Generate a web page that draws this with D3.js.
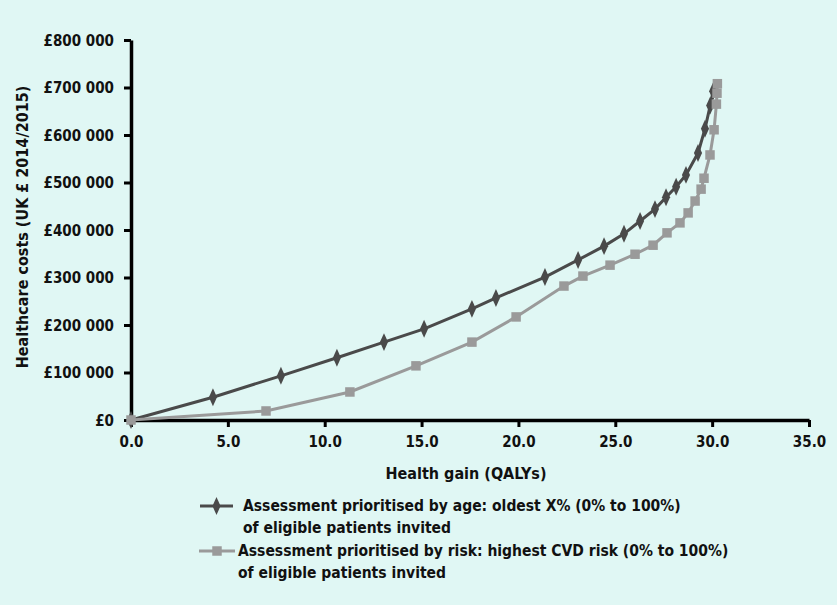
<!DOCTYPE html>
<html><head><meta charset="utf-8">
<script src="https://cdn.jsdelivr.net/npm/d3@7/dist/d3.min.js"></script>
<style>
html,body{margin:0;padding:0;background:#e0f7f4;}
svg{display:block;}
text{font-family:"DejaVu Sans Condensed","DejaVu Sans",sans-serif;font-weight:bold;fill:#111;}
</style></head>
<body>
<script>
// Data
const ageQALY = [0, 4.23, 7.74, 10.63, 13.06, 15.13, 17.6, 18.84, 21.37, 23.08, 24.42, 25.45, 26.28, 27.05, 27.62, 28.14, 28.65, 29.27, 29.63, 29.9, 30.05];
const ageCost = [0, 48000, 93000, 131000, 164000, 192000, 234000, 257000, 301000, 337000, 366000, 392000, 419000, 444000, 469000, 491000, 516000, 562000, 613000, 662000, 692000];
const riskQALY = [0, 6.97, 11.3, 14.71, 17.6, 19.88, 22.35, 23.33, 24.73, 26.02, 26.95, 27.67, 28.34, 28.76, 29.12, 29.43, 29.58, 29.89, 30.1, 30.22, 30.25, 30.27];
const riskCost = [0, 19000, 59000, 114000, 164000, 217000, 282000, 303000, 326000, 349000, 368000, 394000, 415000, 436000, 461000, 486000, 509000, 558000, 611000, 665000, 688000, 708000];
const xTicks = [0, 5, 10, 15, 20, 25, 30, 35];
const yTicks = [0, 100000, 200000, 300000, 400000, 500000, 600000, 700000, 800000];
const xTitle = "Health gain (QALYs)";
const yTitle = "Healthcare costs (UK £ 2014/2015)";
const legendLines = [
  ["Assessment prioritised by age: oldest X% (0% to 100%)", "of eligible patients invited"],
  ["Assessment prioritised by risk: highest CVD risk (0% to 100%)", "of eligible patients invited"]
];

const W = 837, H = 605;
const svg = d3.select("body").append("svg").attr("width", W).attr("height", H);
svg.append("rect").attr("width", W).attr("height", H).attr("fill", "#e0f7f4");

const x = d3.scaleLinear().domain([0, 35]).range([131, 809]);
const y = d3.scaleLinear().domain([0, 800000]).range([420, 40]);

const fmtY = v => v === 0 ? "£0" : "£" + d3.format(",")(v).replace(/,/g, " ");

// Axes
const xAxis = svg.append("g").attr("transform", "translate(0,420)")
  .call(d3.axisBottom(x).tickValues(xTicks).tickFormat(d3.format(".1f")).tickSize(7).tickSizeOuter(0).tickPadding(9));
const yAxis = svg.append("g").attr("transform", "translate(131,0)")
  .call(d3.axisLeft(y).tickValues(yTicks).tickFormat(fmtY).tickSize(7).tickSizeOuter(0).tickPadding(10));
[xAxis, yAxis].forEach(g => {
  g.select(".domain").attr("stroke", "#000").attr("stroke-width", 3.5);
  g.selectAll(".tick line").attr("stroke", "#000").attr("stroke-width", 3);
  g.selectAll(".tick text").attr("fill", "#111").style("font-size", "15px")
   .style("font-family", '"DejaVu Sans Condensed","DejaVu Sans",sans-serif').style("font-weight", "bold");
});
yAxis.selectAll(".tick text").attr("dy", "0.36em");

svg.append("text").attr("x", 466).attr("y", 479).attr("text-anchor", "middle").style("font-size", "16px").text(xTitle);
svg.append("text").attr("transform", "translate(28,227) rotate(-90)").attr("text-anchor", "middle").style("font-size", "16px").text(yTitle);

const ageColor = "#4a4a4a", riskColor = "#9a9a9a";
const ageData = ageQALY.map((q, i) => [q, ageCost[i]]);
const riskData = riskQALY.map((q, i) => [q, riskCost[i]]);
const line = d3.line().x(d => x(d[0])).y(d => y(d[1]));

const diamond = d3.symbol().type(d3.symbolDiamond).size(70);
const square = d3.symbol().type(d3.symbolSquare).size(90);

svg.append("path").datum(ageData).attr("d", line).attr("fill", "none").attr("stroke", ageColor).attr("stroke-width", 3);
svg.selectAll(".dia").data(ageData).enter().append("path")
  .attr("transform", d => `translate(${x(d[0])},${y(d[1])}) scale(0.9,1.15)`).attr("d", diamond).attr("fill", ageColor);

svg.append("path").datum(riskData).attr("d", line).attr("fill", "none").attr("stroke", riskColor).attr("stroke-width", 3);
svg.selectAll(".sq").data(riskData).enter().append("path")
  .attr("transform", d => `translate(${x(d[0])},${y(d[1])})`).attr("d", square).attr("fill", riskColor);

// Legend
const leg = svg.append("g");
const items = [
  {color: ageColor, sym: diamond, sx: 0.9, sy: 1.15, x1: 200, x2: 233, cy: 506, tx: 243, lines: legendLines[0]},
  {color: riskColor, sym: square, sx: 1, sy: 1, x1: 199, x2: 235, cy: 551, tx: 238, lines: legendLines[1]}
];
items.forEach(it => {
  leg.append("line").attr("x1", it.x1).attr("x2", it.x2).attr("y1", it.cy).attr("y2", it.cy)
    .attr("stroke", it.color).attr("stroke-width", 3);
  leg.append("path").attr("transform", `translate(${(it.x1 + it.x2) / 2},${it.cy}) scale(${it.sx},${it.sy})`)
    .attr("d", it.sym).attr("fill", it.color);
  it.lines.forEach((t, i) => {
    leg.append("text").attr("x", it.tx).attr("y", it.cy + 5 + i * 22).style("font-size", "15.5px").text(t);
  });
});
</script>
</body></html>
